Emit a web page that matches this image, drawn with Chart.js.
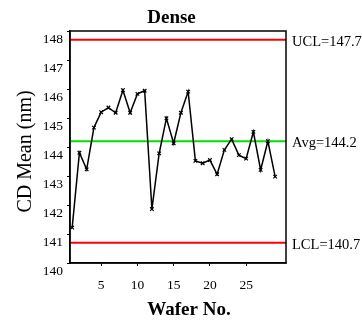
<!DOCTYPE html>
<html lang="en">
<head>
<meta charset="UTF-8" />
<title>Dense - CD Mean control chart</title>
<script src="https://cdn.jsdelivr.net/npm/chart.js"></script>
<style>
  html, body { margin: 0; padding: 0; background: #fff; }
</style>
</head>
<body>
<canvas id="cdChart" width="362" height="322"></canvas>
<script>
  // data
  const wafers = [1, 2, 3, 4, 5, 6, 7, 8, 9, 10, 11, 12, 13, 14, 15, 16, 17, 18, 19, 20, 21, 22, 23, 24, 25, 26, 27, 28, 29];
  const cdMean = [141.22, 143.80, 143.23, 144.67, 145.20, 145.36, 145.18, 145.96, 145.18, 145.83,
                  145.94, 141.86, 143.78, 144.99, 144.13, 145.18, 145.91, 143.52, 143.44, 143.55,
                  143.06, 143.90, 144.27, 143.72, 143.60, 144.52, 143.21, 144.20, 142.98];
  const controlNames = ["UCL", "Avg", "LCL"];
  const controlValues = [147.7, 144.2, 140.7];
  const xTicks = [5, 10, 15, 20, 25];
  const yTicks = [140, 141, 142, 143, 144, 145, 146, 147, 148];
  const xRange = [0.7, 30.5];
  const yRange = [140, 148];

  const controlColors = ["#ff0000", "#00e000", "#ff0000"];
  const serif = "'Liberation Serif', 'Times New Roman', serif";

  const decor = {
    id: "decor",
    afterDraw(chart) {
      const { ctx, chartArea: a, scales: { y } } = chart;
      ctx.save();
      // frame round the plot
      ctx.strokeStyle = "#000";
      ctx.lineWidth = 1.5;
      ctx.strokeRect(a.left, a.top, a.right - a.left, a.bottom - a.top);

      ctx.fillStyle = "#000";
      ctx.font = "14.5px " + serif;
      ctx.textAlign = "left";
      ctx.textBaseline = "middle";
      controlNames.forEach((n, i) => {
        ctx.fillText(n + "=" + controlValues[i], a.right + 6, y.getPixelForValue(controlValues[i]) + 2);
      });

      ctx.textAlign = "center";
      ctx.font = "bold 19px " + serif;
      ctx.fillText("Dense", 171.5, 18);
      ctx.fillText("Wafer No.", 189, 310);

      ctx.translate(25.5, 151.5);
      ctx.rotate(-Math.PI / 2);
      ctx.font = "20px " + serif;
      ctx.fillText("CD Mean (nm)", 0, 0);
      ctx.restore();
    }
  };

  const axisGrid = { drawOnChartArea: false, tickLength: 3, color: "#000", lineWidth: 1 };
  const axisBorder = { color: "#000", width: 1.5 };

  new Chart(document.getElementById("cdChart"), {
    type: "line",
    data: {
      datasets: [
        {
          label: "CD Mean",
          data: wafers.map((w, i) => ({ x: w, y: cdMean[i] })),
          borderColor: "#000",
          borderWidth: 1.5,
          pointStyle: "crossRot",
          pointRadius: 2.5,
          pointBorderWidth: 1.2,
          tension: 0,
          order: 0
        },
        ...controlValues.map((v, i) => ({
          label: controlNames[i],
          data: [{ x: xRange[0], y: v }, { x: xRange[1], y: v }],
          borderColor: controlColors[i],
          borderWidth: 2,
          pointRadius: 0,
          order: 1
        }))
      ]
    },
    options: {
      responsive: false,
      animation: false,
      layout: { padding: { top: 31, right: 76, bottom: 0, left: 0 } },
      plugins: { legend: { display: false }, tooltip: { enabled: false } },
      scales: {
        x: {
          type: "linear",
          min: xRange[0],
          max: xRange[1],
          afterFit: s => { s.height = 59; },
          afterBuildTicks: s => { s.ticks = xTicks.map(v => ({ value: v })); },
          grid: axisGrid,
          border: axisBorder,
          ticks: { color: "#000", font: { family: serif, size: 13.5 }, padding: 11, maxRotation: 0 }
        },
        y: {
          min: yRange[0],
          max: yRange[1],
          afterFit: s => { s.width = 70; },
          afterBuildTicks: s => { s.ticks = yTicks.map(v => ({ value: v })); },
          grid: axisGrid,
          border: axisBorder,
          ticks: { color: "#000", font: { family: serif, size: 13.5 }, padding: 4, labelOffset: 8 }
        }
      }
    },
    plugins: [decor]
  });
</script>
</body>
</html>
